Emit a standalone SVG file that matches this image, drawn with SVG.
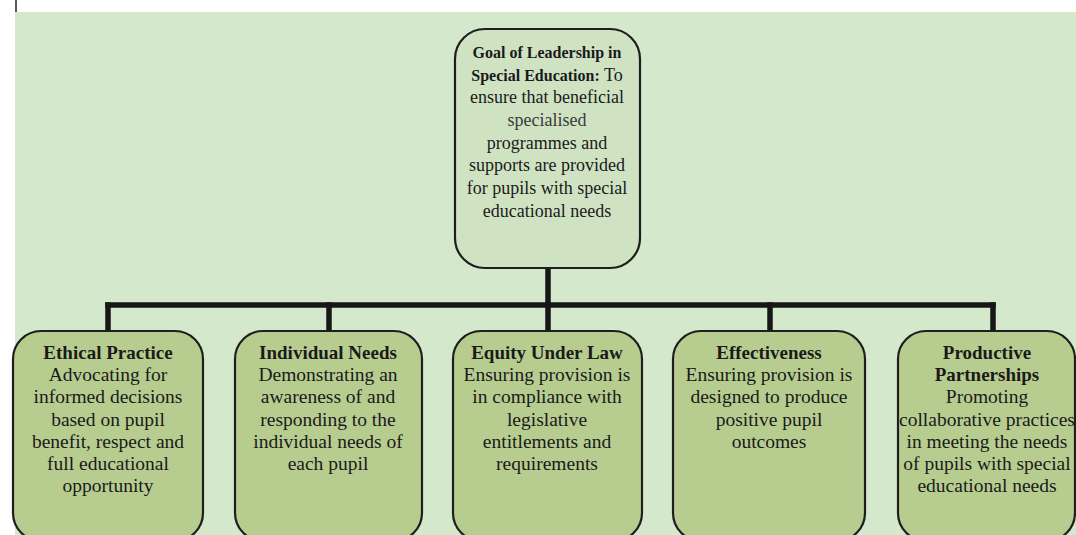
<svg xmlns="http://www.w3.org/2000/svg" width="1076" height="535" viewBox="0 0 1076 535">
<style>
.bg{fill:#d4e8cb}
.top{fill:#cfe3c3;stroke:#1e1e1e;stroke-width:2.2}
.box{fill:#b7cd90;stroke:#1e1e1e;stroke-width:2.2}
.conn{stroke:#161616;stroke-width:5.5;fill:none;stroke-linecap:square}
text{font-family:"Liberation Serif","Times New Roman",serif;fill:#1a1a1a;text-anchor:middle}
.t{font-size:18px}
.tb{font-size:16px;font-weight:bold}
.b{font-size:19.5px}
.bb{font-size:19px;font-weight:bold}
</style>
<rect x="0" y="0" width="1076" height="535" fill="#ffffff"/>
<rect class="bg" x="15" y="12" width="1061" height="523"/>
<line x1="16" y1="0" x2="16" y2="12" stroke="#222" stroke-width="1.5"/>

<g id="connectors">
<path class="conn" d="M548 268 V305"/>
<path class="conn" d="M108 305 H993"/>
<path class="conn" d="M108 305 V331"/>
<path class="conn" d="M329 305 V331"/>
<path class="conn" d="M548 305 V331"/>
<path class="conn" d="M770 305 V331"/>
<path class="conn" d="M993 305 V331"/>
</g>

<g id="goal">
<rect class="top" x="455" y="29" width="185" height="239" rx="30"/>
<text class="tb" x="547" y="58">Goal of Leadership in</text>
<text x="547" y="81"><tspan class="tb">Special Education:</tspan><tspan class="t"> To</tspan></text>
<text class="t" x="547" y="103">ensure that beneficial</text>
<text class="t" x="547" y="126" style="fill:#3a3a3a">specialised</text>
<text class="t" x="547" y="149">programmes and</text>
<text class="t" x="547" y="171">supports are provided</text>
<text class="t" x="547" y="194">for pupils with special</text>
<text class="t" x="547" y="217">educational needs</text>
</g>

<g id="ethical">
<rect class="box" x="13" y="331" width="190" height="210" rx="28"/>
<text class="bb" x="108" y="359">Ethical Practice</text>
<text class="b" x="108" y="381">Advocating for</text>
<text class="b" x="108" y="403">informed decisions</text>
<text class="b" x="108" y="426">based on pupil</text>
<text class="b" x="108" y="448">benefit, respect and</text>
<text class="b" x="108" y="470">full educational</text>
<text class="b" x="108" y="492">opportunity</text>
</g>

<g id="individual">
<rect class="box" x="235" y="331" width="187" height="210" rx="28"/>
<text class="bb" x="328" y="359">Individual Needs</text>
<text class="b" x="328" y="381">Demonstrating an</text>
<text class="b" x="328" y="403">awareness of and</text>
<text class="b" x="328" y="426">responding to the</text>
<text class="b" x="328" y="448">individual needs of</text>
<text class="b" x="328" y="470">each pupil</text>
</g>

<g id="equity">
<rect class="box" x="453" y="331" width="189" height="210" rx="28"/>
<text class="bb" x="547" y="359">Equity Under Law</text>
<text class="b" x="547" y="381">Ensuring provision is</text>
<text class="b" x="547" y="403">in compliance with</text>
<text class="b" x="547" y="426">legislative</text>
<text class="b" x="547" y="448">entitlements and</text>
<text class="b" x="547" y="470">requirements</text>
</g>

<g id="effectiveness">
<rect class="box" x="673" y="331" width="192" height="210" rx="28"/>
<text class="bb" x="769" y="359">Effectiveness</text>
<text class="b" x="769" y="381">Ensuring provision is</text>
<text class="b" x="769" y="403">designed to produce</text>
<text class="b" x="769" y="426">positive pupil</text>
<text class="b" x="769" y="448">outcomes</text>
</g>

<g id="partnerships">
<rect class="box" x="898" y="331" width="177" height="210" rx="28"/>
<text class="bb" x="987" y="359">Productive</text>
<text class="bb" x="987" y="381">Partnerships</text>
<text class="b" x="987" y="403">Promoting</text>
<text class="b" x="987" y="426">collaborative practices</text>
<text class="b" x="987" y="448">in meeting the needs</text>
<text class="b" x="987" y="470">of pupils with special</text>
<text class="b" x="987" y="492">educational needs</text>
</g>
</svg>
